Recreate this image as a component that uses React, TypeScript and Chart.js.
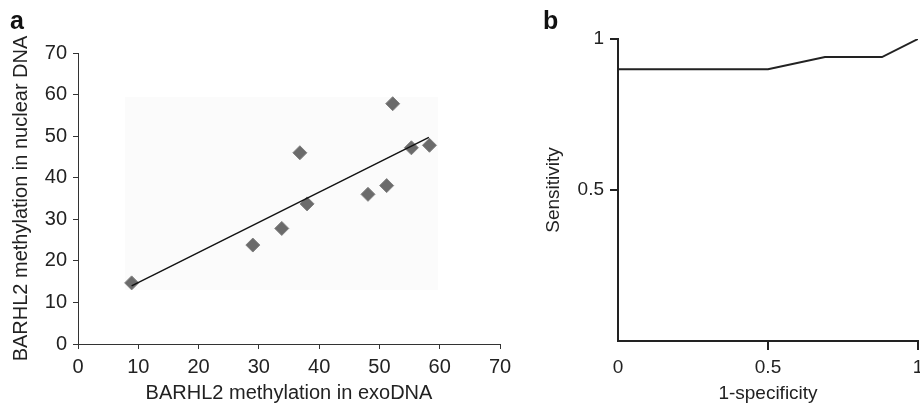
import React, { useEffect, useRef } from 'react';
import Chart from 'chart.js/auto';

// Panel a: BARHL2 methylation
const exoDNA = [8.9, 29.0, 33.8, 36.8, 38.0, 48.1, 51.2, 52.2, 55.3, 58.3];
const nuclearDNA = [14.7, 23.8, 27.8, 46.0, 33.7, 36.0, 38.1, 57.8, 47.2, 47.8];
const fitX = [8.9, 58.2];
const fitY = [14.0, 49.7];
const plotAreaX = [7.8, 59.7];
const plotAreaY = [13, 59.4];
const xTicksA = [0, 10, 20, 30, 40, 50, 60, 70];
const yTicksA = [0, 10, 20, 30, 40, 50, 60, 70];

// Panel b: ROC curve
const rocFPR = [0, 0.5, 0.69, 0.88, 1];
const rocSens = [0.9, 0.9, 0.94, 0.94, 1];
const rocXTicks = [0, 0.5, 1];
const rocYTicks = [0, 0.5, 1];

const FONT = "'Liberation Sans', Arial, Helvetica, sans-serif";
const INK = '#222';

const plotAreaPlugin = {
  id: 'plotAreaFill',
  beforeDatasetsDraw(chart: any) {
    if (!chart.options.plugins.plotAreaFill?.enabled) return;
    const { ctx, scales } = chart;
    const x = scales.x, y = scales.y;
    const x0 = x.getPixelForValue(plotAreaX[0]);
    const x1 = x.getPixelForValue(plotAreaX[1]);
    const y0 = y.getPixelForValue(plotAreaY[1]);
    const y1 = y.getPixelForValue(plotAreaY[0]);
    ctx.save();
    ctx.fillStyle = '#fbfbfb';
    ctx.fillRect(x0, y0, x1 - x0, y1 - y0);
    ctx.restore();
  },
};

function setTicks(values: number[]) {
  return (s: any) => {
    s.ticks = values.map((v) => ({ value: v }));
  };
}

const plain = (v: any) => String(v);

export default function App() {
  const refA = useRef<HTMLCanvasElement>(null);
  const refB = useRef<HTMLCanvasElement>(null);

  useEffect(() => {
    const chartA = new Chart(refA.current!, {
      type: 'scatter',
      data: {
        datasets: [
          {
            type: 'line',
            data: fitX.map((x, i) => ({ x, y: fitY[i] })),
            borderColor: '#111',
            borderWidth: 1.4,
            pointRadius: 0,
            fill: false,
            order: 0,
          } as any,
          {
            data: exoDNA.map((x, i) => ({ x, y: nuclearDNA[i] })),
            pointStyle: 'rectRot',
            pointRadius: 7,
            backgroundColor: '#6b6b6b',
            borderColor: '#808080',
            borderWidth: 1,
            order: 1,
          },
        ],
      },
      options: {
        animation: false,
        responsive: false,
        layout: { padding: { top: 53, right: 20, left: 0, bottom: 0 } },
        plugins: {
          legend: { display: false },
          tooltip: { enabled: false },
          plotAreaFill: { enabled: true },
        } as any,
        scales: {
          x: {
            type: 'linear',
            min: 0,
            max: 70,
            afterBuildTicks: setTicks(xTicksA),
            afterFit: (s: any) => { s.height = 64; },
            ticks: { color: INK, font: { family: FONT, size: 20 }, padding: 6, maxRotation: 0, callback: plain },
            grid: { drawOnChartArea: false, tickLength: 5, color: '#333', lineWidth: 1 },
            border: { color: '#333', width: 1 },
            title: {
              display: true,
              text: 'BARHL2 methylation in exoDNA',
              color: INK,
              font: { family: FONT, size: 20 },
              padding: { top: 0, bottom: 3 },
            },
          },
          y: {
            type: 'linear',
            min: 0,
            max: 70,
            afterBuildTicks: setTicks(yTicksA),
            afterFit: (s: any) => { s.width = 78; },
            ticks: { color: INK, font: { family: FONT, size: 20 }, padding: 6, callback: plain },
            grid: { drawOnChartArea: false, tickLength: 5, color: '#333', lineWidth: 1 },
            border: { color: '#333', width: 1 },
            title: {
              display: true,
              text: 'BARHL2 methylation in nuclear DNA',
              color: INK,
              font: { family: FONT, size: 20 },
              padding: { top: 9, bottom: 0 },
            },
          },
        },
      } as any,
      plugins: [plotAreaPlugin],
    });

    const hideZero = (c: any) => (c.tick && c.tick.value === 0 ? 'rgba(0,0,0,0)' : INK);

    const chartB = new Chart(refB.current!, {
      type: 'line',
      data: {
        datasets: [
          {
            data: rocFPR.map((x, i) => ({ x, y: rocSens[i] })),
            borderColor: INK,
            borderWidth: 2,
            pointRadius: 0,
            fill: false,
            tension: 0,
          },
        ],
      },
      options: {
        animation: false,
        responsive: false,
        layout: { padding: { top: 39, right: 42, left: 0, bottom: 0 } },
        plugins: { legend: { display: false }, tooltip: { enabled: false } },
        scales: {
          x: {
            type: 'linear',
            min: 0,
            max: 1,
            afterBuildTicks: setTicks(rocXTicks),
            afterFit: (s: any) => { s.height = 67; },
            ticks: { color: INK, font: { family: FONT, size: 19 }, padding: 6, maxRotation: 0, callback: plain },
            grid: { drawOnChartArea: false, tickLength: 9, tickColor: hideZero, lineWidth: 2 },
            border: { color: INK, width: 2 },
            title: {
              display: true,
              text: '1-specificity',
              color: INK,
              font: { family: FONT, size: 19 },
              padding: { top: 0, bottom: 3 },
            },
          },
          y: {
            type: 'linear',
            min: 0,
            max: 1,
            afterBuildTicks: setTicks(rocYTicks),
            afterFit: (s: any) => { s.width = 78; },
            ticks: {
              color: INK,
              font: { family: FONT, size: 19 },
              padding: 6,
              callback: (v: any) => (v === 0 ? '' : String(v)),
            },
            grid: { drawOnChartArea: false, tickLength: 8, tickColor: hideZero, lineWidth: 2 },
            border: { color: INK, width: 2 },
            title: {
              display: true,
              text: 'Sensitivity',
              color: INK,
              font: { family: FONT, size: 19 },
              padding: { top: 2, bottom: 0 },
            },
          },
        },
      } as any,
    });

    return () => {
      chartA.destroy();
      chartB.destroy();
    };
  }, []);

  const letter: React.CSSProperties = {
    position: 'absolute',
    fontFamily: FONT,
    fontWeight: 'bold',
    fontSize: 25,
    lineHeight: '25px',
    color: '#111',
  };

  return (
    <div
      style={{
        position: 'fixed',
        left: 0,
        top: 0,
        width: 920,
        height: 408,
        overflow: 'hidden',
        background: '#fff',
      }}
    >
      <canvas ref={refA} width={520} height={408} style={{ position: 'absolute', left: 0, top: 0, width: 520, height: 408 }} />
      <canvas ref={refB} width={420} height={408} style={{ position: 'absolute', left: 540, top: 0, width: 420, height: 408 }} />
      <div style={{ ...letter, left: 10, top: 8 }}>a</div>
      <div style={{ ...letter, left: 543, top: 8 }}>b</div>
    </div>
  );
}
